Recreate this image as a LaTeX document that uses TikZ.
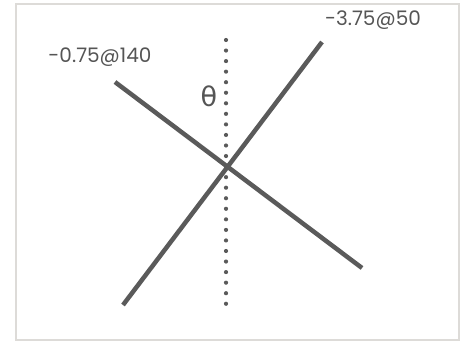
\documentclass[tikz,border=0pt]{standalone}
\usepackage{fontspec}
\setmainfont{Poppins}
\newfontfamily\greekfont{DejaVu Sans}
\usetikzlibrary{positioning}
\definecolor{linegray}{HTML}{5A5A5A}
\definecolor{framegray}{HTML}{DDDBD8}
\definecolor{textgray}{HTML}{555555}

\begin{document}
\begin{tikzpicture}[
  x=1pt, y=-1pt,
  frame/.style={draw=framegray, line width=2pt},
  stroke/.style={draw=linegray, line width=4.5pt},
  axis/.style={draw=linegray, line width=4.2pt, line cap=round, dash pattern=on 0pt off 10.55pt},
  lbl/.style={text=textgray, font=\fontsize{20}{22}\selectfont, inner sep=0pt},
]
\useasboundingbox (0,0) rectangle (468,342);

% frame
\draw[frame] (16,4) rectangle (459,340);

% end points
\coordinate (a1) at (123,305);
\coordinate (a2) at (322,42);
\coordinate (b1) at (115,82);
\coordinate (b2) at (362,268);
\coordinate (top) at (226,40);
\coordinate (bottom) at (226,304);

% vertical reference
\draw[axis] (top) -- (bottom);

% lines
\draw[stroke] (a1) -- (a2);
\draw[stroke] (b1) -- (b2);

% labels
\node[lbl] (l50) at (373,20) {-3.75@50};
\node[lbl] (l140) at (100,57) {-0.75@140};
\node[lbl, font=\greekfont\fontsize{27}{29}\selectfont] (theta) at (209,96) {θ};

\end{tikzpicture}
\end{document}
